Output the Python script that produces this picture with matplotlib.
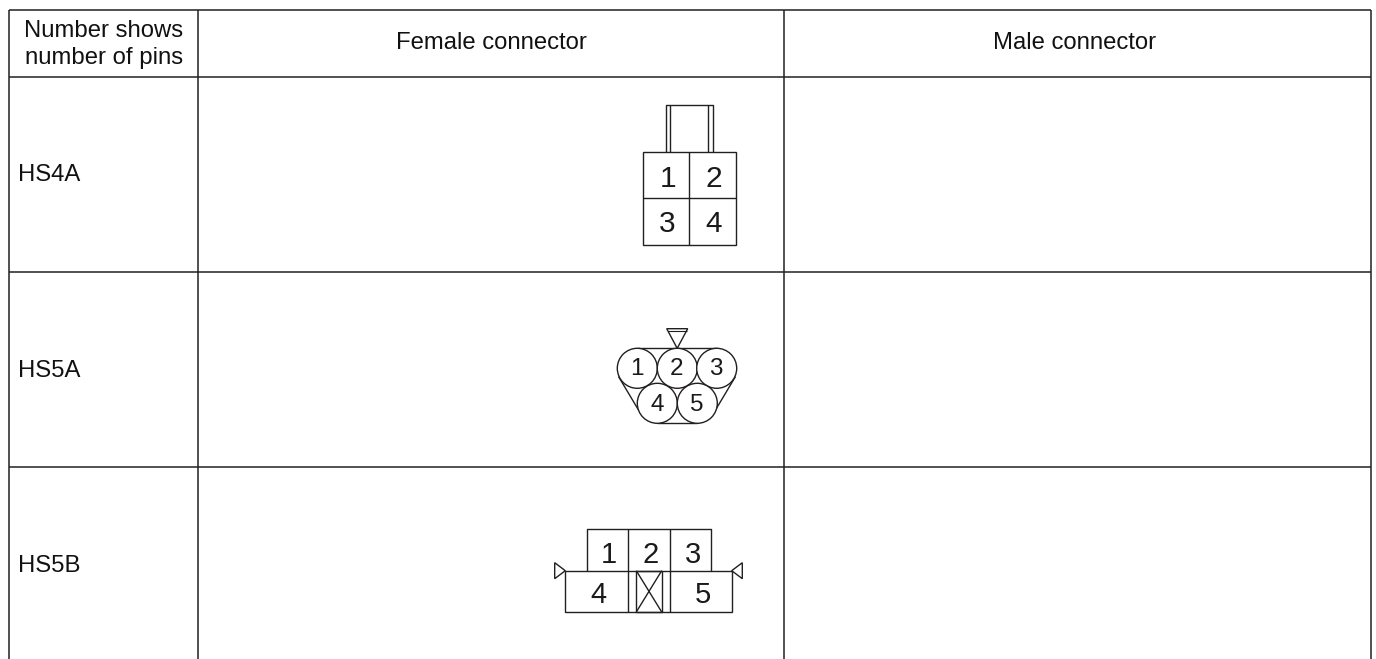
import matplotlib
matplotlib.use("Agg")
import matplotlib.pyplot as plt
from matplotlib.patches import Circle, Polygon, Rectangle

columns = ["Number shows\nnumber of pins", "Female connector", "Male connector"]
rows = ["HS4A", "HS5A", "HS5B"]
pins_hs4a = ["1", "2", "3", "4"]
pins_hs5a = ["1", "2", "3", "4", "5"]
pins_hs5b = ["1", "2", "3", "4", "5"]

W, H = 1376, 659
fig = plt.figure(figsize=(W / 100, H / 100), dpi=100)
ax = fig.add_axes([0, 0, 1, 1])
ax.set_xlim(0, W)
ax.set_ylim(H, 0)
ax.axis("off")

DARK = "#231f20"
LABEL = dict(family=["Liberation Sans", "DejaVu Sans"], color="#111111")
DIGIT = dict(family=["Liberation Sans", "DejaVu Sans"], color="#1a1a1a",
             ha="center", va="baseline")


def line(xs, ys, lw=1.0, color=DARK):
    ax.plot(xs, ys, color=color, lw=lw, solid_capstyle="butt")


# table grid
col_x = [9.3, 198.3, 784, 1370.7]
row_y = [10, 76.5, 272, 467]
bottom = 659
for x in col_x:
    line([x, x], [row_y[0], bottom], 1.1)
for y in row_y:
    line([col_x[0], col_x[-1]], [y, y], 1.1)

# headers
FS = 17.2
ax.text(103.8, 44.5, columns[0], ha="center", va="center", fontsize=FS,
        linespacing=1.28, **LABEL)
ax.text(491, 49, columns[1], ha="center", va="baseline", fontsize=FS, **LABEL)
ax.text(1075, 49, columns[2], ha="center", va="baseline", fontsize=FS, **LABEL)

# row labels
for name, y in zip(rows, [180.7, 376.7, 572.3]):
    ax.text(18, y, name, ha="left", va="baseline", fontsize=FS, **LABEL)

# HS4A connector
lw = 1.0
ax.add_patch(Rectangle((642.7, 151.7), 93.3, 93.3, fill=False, ec=DARK, lw=lw))
line([689, 689], [151.7, 245], lw)
line([642.7, 736], [198.3, 198.3], lw)
line([665.7, 665.7, 712.7, 712.7], [151.7, 104.7, 104.7, 151.7], lw)
line([670.3, 670.3], [104.7, 151.7], lw)
line([708.3, 708.3], [104.7, 151.7], lw)
for s, (x, y) in zip(pins_hs4a, [(667.7, 187.3), (713.7, 187.3), (667, 231.7), (714, 231.7)]):
    ax.text(x, y, s, fontsize=21.5, **DIGIT)

# HS5A connector
ax.add_patch(Polygon([(666.7, 328.7), (687.7, 328.7), (677.2, 348.3)], closed=True, fill=False, ec=DARK, lw=lw))
line([667.8, 686.6], [331, 331], 0.8)
line([637.3, 716.7], [348.3, 348.3], lw)
line([657.3, 697.3], [423.3, 423.3], lw)
line([618.5, 638.5], [376.5, 410], lw)
line([735.5, 715.5], [376.5, 410], lw)
centers = [(637.3, 368.3), (677.3, 368.3), (716.7, 368.3), (657.3, 403.3), (697.3, 403.3)]
baselines = [375, 375, 375, 410.7, 410.7]
for s, (x, y), b in zip(pins_hs5a, centers, baselines):
    ax.add_patch(Circle((x, y), 20, fc="white", ec=DARK, lw=lw, zorder=3))
    ax.text(x - 0.5, b, s, fontsize=17.5, zorder=4, **DIGIT)

# HS5B connector
line([586.7, 586.7, 711, 711], [570.7, 529.3, 529.3, 570.7], lw)
ax.add_patch(Rectangle((565.3, 570.7), 166.4, 41.3, fill=False, ec=DARK, lw=lw))
line([628.3, 628.3], [529.3, 612], lw)
line([669.7, 669.7], [529.3, 612], lw)
ax.add_patch(Rectangle((636.3, 570.7), 25.4, 41.3, fill=False, ec=DARK, lw=lw))
line([636.3, 661.7], [612, 570.7], lw)
line([636.3, 661.7], [570.7, 612], lw)
ax.add_patch(Polygon([(554.7, 562.7), (554.7, 578.7), (565.3, 570.7)], closed=True, fill=False, ec=DARK, lw=lw))
ax.add_patch(Polygon([(742.3, 562.7), (742.3, 578.7), (731.7, 570.7)], closed=True, fill=False, ec=DARK, lw=lw))
for s, (x, y) in zip(pins_hs5b, [(609, 562.7), (650.7, 562.7), (693.3, 562.7), (598.3, 602.7), (702.7, 602.7)]):
    ax.text(x, y, s, fontsize=21, **DIGIT)

fig.savefig("out.png", dpi=100)
